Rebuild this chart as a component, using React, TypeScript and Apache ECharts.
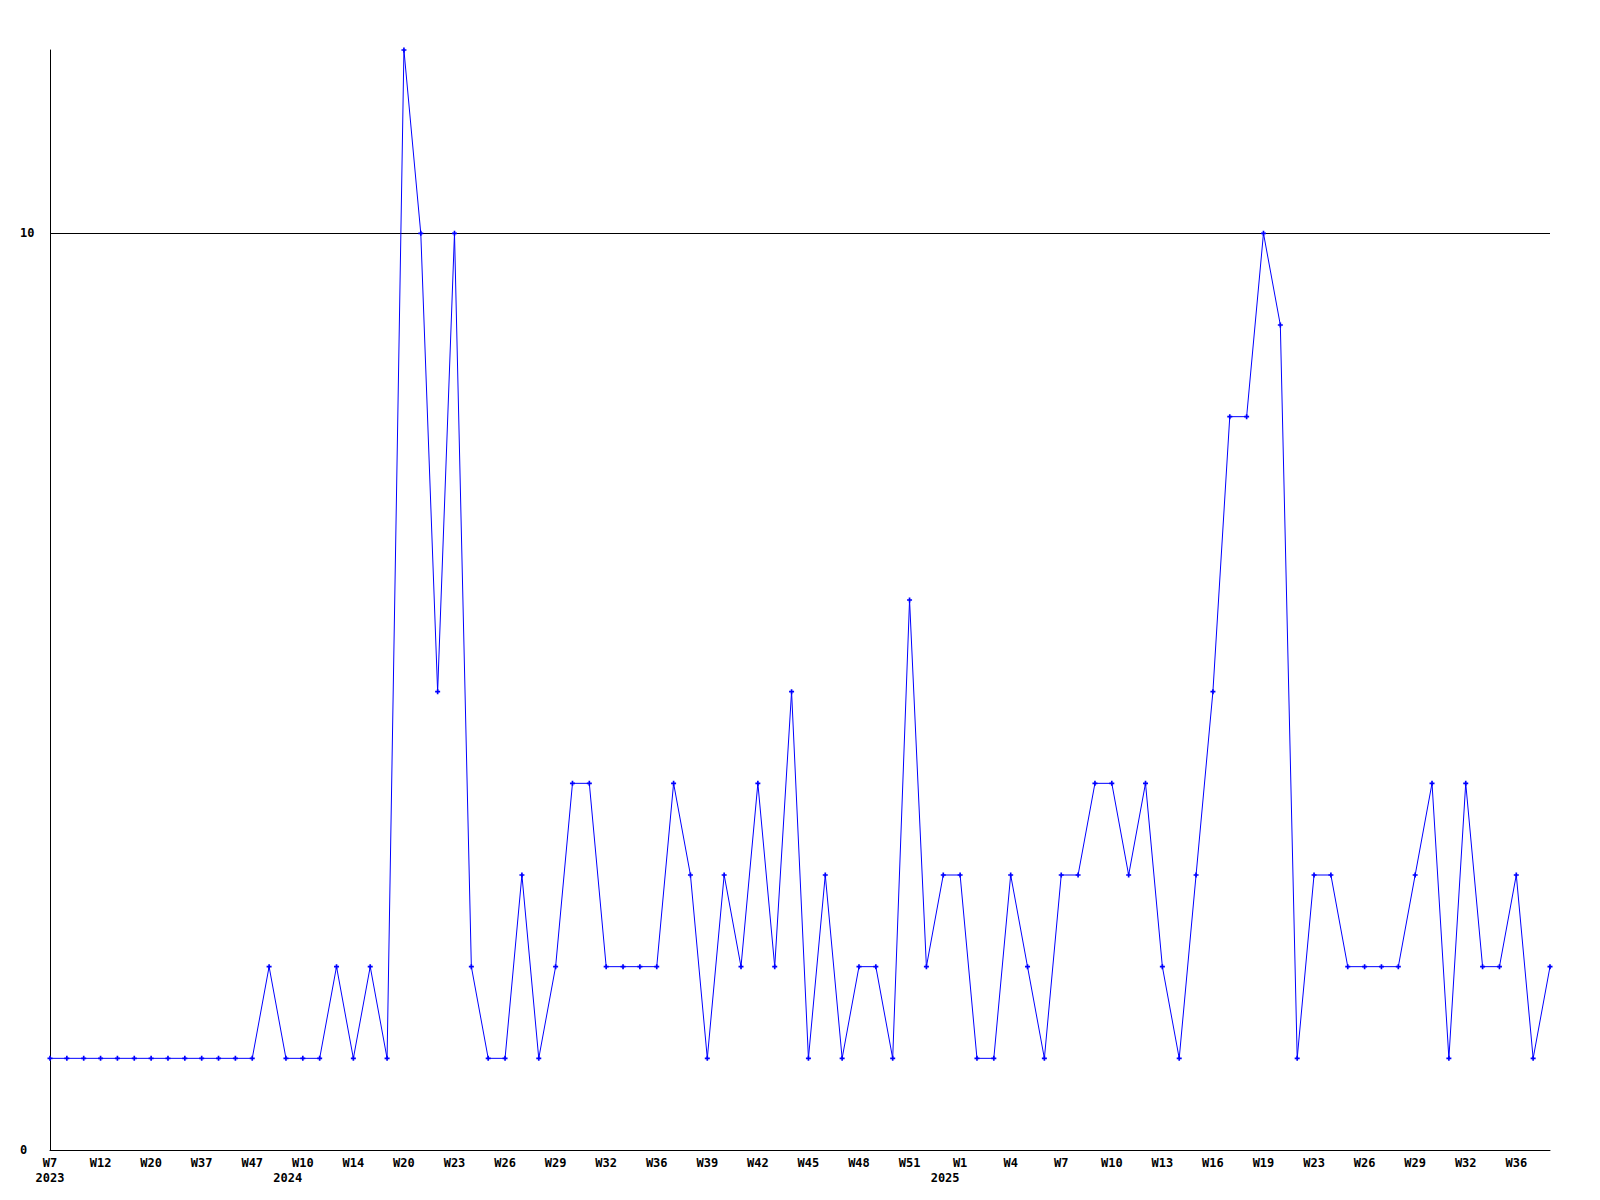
import React, { useEffect, useRef } from "react";
import * as echarts from "echarts";

// Week keys (year-week) for each point
const weeks: string[] = [
  "2023-W7", "2023-W8", "2023-W10", "2023-W12", "2023-W14", "2023-W17", "2023-W20", "2023-W25", "2023-W31", "2023-W37",
  "2023-W40", "2023-W44", "2023-W47", "2023-W49", "2023-W51", "2024-W10", "2024-W11", "2024-W13", "2024-W14", "2024-W16",
  "2024-W18", "2024-W20", "2024-W21", "2024-W22", "2024-W23", "2024-W24", "2024-W25", "2024-W26", "2024-W27", "2024-W28",
  "2024-W29", "2024-W30", "2024-W31", "2024-W32", "2024-W33", "2024-W34", "2024-W36", "2024-W37", "2024-W38", "2024-W39",
  "2024-W40", "2024-W41", "2024-W42", "2024-W43", "2024-W44", "2024-W45", "2024-W46", "2024-W47", "2024-W48", "2024-W49",
  "2024-W50", "2024-W51", "2024-W52", "2024-W53", "2025-W1", "2025-W2", "2025-W3", "2025-W4", "2025-W5", "2025-W6",
  "2025-W7", "2025-W8", "2025-W9", "2025-W10", "2025-W11", "2025-W12", "2025-W13", "2025-W14", "2025-W15", "2025-W16",
  "2025-W17", "2025-W18", "2025-W19", "2025-W20", "2025-W22", "2025-W23", "2025-W24", "2025-W25", "2025-W26", "2025-W27",
  "2025-W28", "2025-W29", "2025-W30", "2025-W31", "2025-W32", "2025-W33", "2025-W35", "2025-W36", "2025-W37", "2025-W38",
];

const counts: number[] = [
  1, 1, 1, 1, 1, 1, 1, 1, 1, 1,
  1, 1, 1, 2, 1, 1, 1, 2, 1, 2,
  1, 12, 10, 5, 10, 2, 1, 1, 3, 1,
  2, 4, 4, 2, 2, 2, 2, 4, 3, 1,
  3, 2, 4, 2, 5, 1, 3, 1, 2, 2,
  1, 6, 2, 3, 3, 1, 1, 3, 2, 1,
  3, 3, 4, 4, 3, 4, 2, 1, 3, 5,
  8, 8, 10, 9, 1, 3, 3, 2, 2, 2,
  2, 3, 4, 1, 4, 2, 2, 3, 1, 2,
];

const yTicks: number[] = [0, 10];

const FONT = "DejaVu Sans Mono";

export default function App() {
  const ref = useRef<HTMLDivElement>(null);

  useEffect(() => {
    if (!ref.current) return;
    const chart = echarts.init(ref.current, undefined, { renderer: "svg" });
    const labelStep = 3;
    const baseText = {
      fontFamily: FONT,
      fontSize: 12,
      fontWeight: "bold" as const,
      color: "#000",
      lineHeight: 15,
    };
    chart.setOption({
      animation: false,
      backgroundColor: "#fff",
      grid: { left: 50, right: 50, top: 50, bottom: 50, containLabel: false },
      xAxis: {
        type: "category",
        data: weeks,
        boundaryGap: false,
        axisLine: { show: true, lineStyle: { color: "#000", width: 1 } },
        axisTick: { show: false },
        splitLine: { show: false },
        axisLabel: {
          ...baseText,
          interval: labelStep - 1,
          margin: 5,
          formatter: (val: string, idx: number) => {
            const [yr, wk] = val.split("-");
            const prev = idx - labelStep >= 0 ? weeks[idx - labelStep].split("-")[0] : null;
            if (prev !== yr) {
              const style = idx === 0 ? "y0" : "y1";
              return `${wk}\n{${style}|${yr}}`;
            }
            return wk;
          },
          rich: {
            y0: { ...baseText, padding: [0, 0, 0, 0] },
            y1: { ...baseText, padding: [0, 30, 0, 0] },
          },
        },
      },
      yAxis: {
        type: "value",
        min: 0,
        max: 12,
        interval: yTicks[1] - yTicks[0],
        axisLine: { show: true, lineStyle: { color: "#000", width: 1 } },
        axisTick: { show: false },
        splitLine: {
          show: true,
          showMinLine: false,
          showMaxLine: false,
          lineStyle: { color: "#000", width: 1 },
        },
        axisLabel: {
          ...baseText,
          align: "left",
          margin: 30,
          showMaxLabel: false,
          formatter: (v: number) => (yTicks.includes(v) ? String(v) : ""),
        },
      },
      series: [
        {
          type: "line",
          data: counts,
          showAllSymbol: true,
          symbol: "path://M1,0h1v1h1v1h-1v1h-1v-1h-1v-1h1z",
          symbolSize: 5,
          itemStyle: { color: "#0000ff" },
          lineStyle: { color: "#0000ff", width: 1 },
          emphasis: { disabled: true },
        },
      ],
    });
    return () => chart.dispose();
  }, []);

  return (
    <div
      ref={ref}
      style={{ position: "absolute", left: 0, top: 0, width: 1600, height: 1200, background: "#fff" }}
    />
  );
}
